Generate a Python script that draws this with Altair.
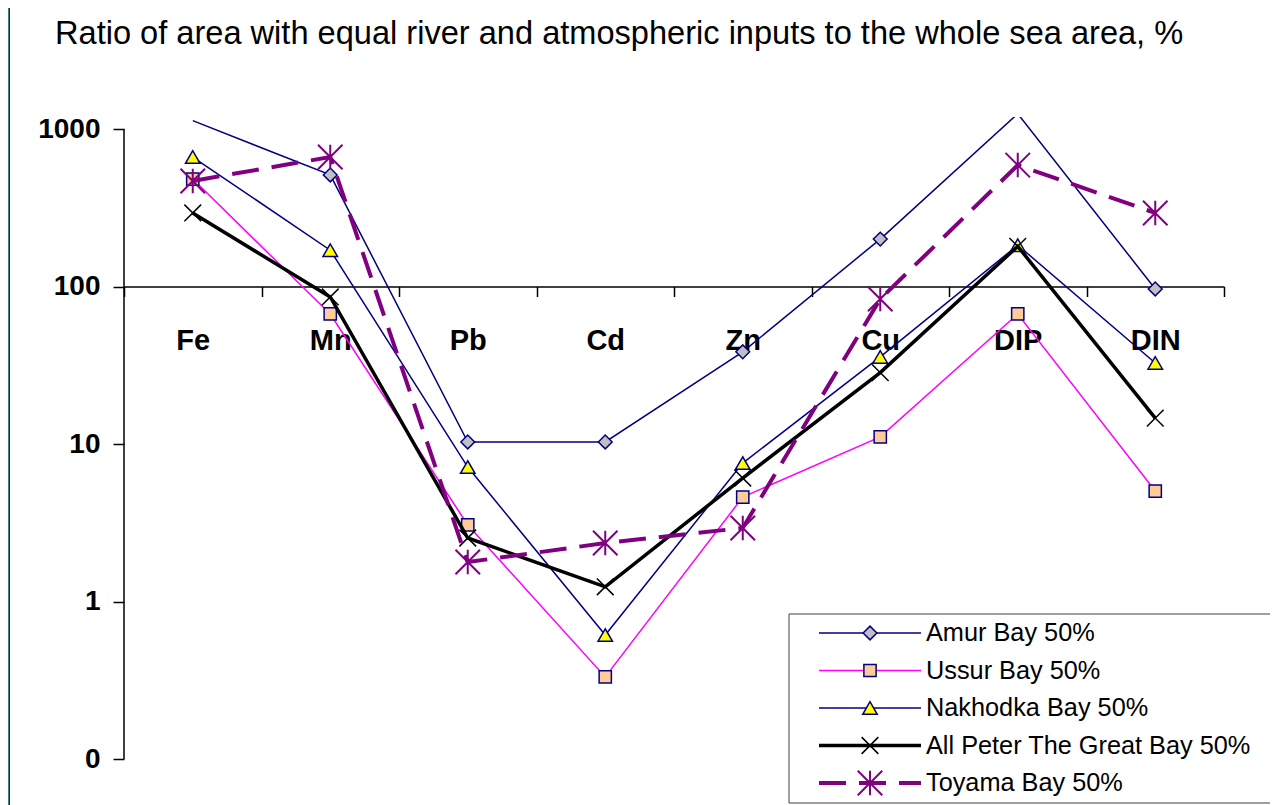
import altair as alt
import pandas as pd

# ---------------- data ----------------
categories = ["Fe", "Mn", "Pb", "Cd", "Zn", "Cu", "DIP", "DIN"]
series_names = [
    "Amur Bay 50%",
    "Ussur Bay 50%",
    "Nakhodka Bay 50%",
    "All Peter The Great Bay 50%",
    "Toyama Bay 50%",
]
amur = [1130, 511, 10.3, 10.3, 38.5, 200, 1250, 96.5]
ussur = [481, 66.9, 3.06, 0.332, 4.6, 11.1, 66.9, 5.03]
nakhodka = [664, 170, 7.14, 0.612, 7.57, 35.7, 183, 32.7]
peter = [293, 85.8, 2.53, 1.24, 6.08, 28.4, 180, 14.6]
toyama = [468, 664, 1.78, 2.35, 2.93, 83.3, 590, 293]
y_ticks = [0.1, 1, 10, 100, 1000]
title_text = "Ratio of area with equal river and atmospheric inputs to the whole sea area, %"

series_values = [amur, ussur, nakhodka, peter, toyama]

# ---------------- styles ----------------
FONT = "Liberation Sans"
NAVY = "#000080"
X_PATH = "M-1,-1L1,1M-1,1L1,-1"
AST_PATH = "M-1,-1L1,1M-1,1L1,-1M0,-1L0,1"
styles = [
    dict(line=NAVY, lw=1.5, dash=None, shape="diamond", size=190, fill="#C0C0C0", stroke=NAVY, sw=1.5),
    dict(line="#FF00FF", lw=1.5, dash=None, shape="square", size=150, fill="#FFCC99", stroke=NAVY, sw=1.5),
    dict(line=NAVY, lw=1.5, dash=None, shape="triangle-up", size=210, fill="#FFFF00", stroke=NAVY, sw=1.5),
    dict(line="black", lw=3.5, dash=None, shape=X_PATH, size=280, fill=None, stroke="black", sw=1.5),
    dict(line="#800080", lw=4, dash=[27, 13], shape=AST_PATH, size=600, fill=None, stroke="#800080", sw=2),
]

W, H = 1100, 642
TOTAL_W, TOTAL_H = 1262, 797
PAD_L, PAD_T = 116, 109
PX_PER_DECADE = 157.5
ymax = 0.1 * 10 ** (H / PX_PER_DECADE)
axis_y_px = H - 3 * PX_PER_DECADE  # pixel position of the value 100

rows = []
for name, vals in zip(series_names, series_values):
    for c, v in zip(categories, vals):
        rows.append({"series": name, "elem": c, "value": v})
df = pd.DataFrame(rows)

x_enc = alt.X(
    "elem:N",
    sort=categories,
    bandPosition=0.5,
    scale=alt.Scale(type="band", domain=categories, paddingInner=0, paddingOuter=0),
    axis=alt.Axis(
        orient="bottom",
        offset=-(H - axis_y_px),
        tickBand="extent",
        labelAngle=0,
        labelFont=FONT,
        labelFontSize=29,
        labelFontWeight="bold",
        labelColor="black",
        labelBaseline="alphabetic",
        labelPadding=53,
        domainColor="black",
        domainWidth=1.5,
        tickColor="black",
        tickSize=10,
        tickWidth=1.5,
        grid=False,
        title=None,
    ),
)
y_enc = alt.Y(
    "value:Q",
    scale=alt.Scale(type="log", domain=[0.1, ymax], nice=False),
    axis=alt.Axis(
        values=y_ticks,
        labelExpr="datum.value < 1 ? '0' : format(datum.value, 'd')",
        labelFont=FONT,
        labelFontSize=28,
        labelFontWeight="bold",
        labelColor="black",
        labelPadding=13,
        tickColor="black",
        tickSize=11,
        tickWidth=1.5,
        domain=False,
        grid=False,
        title=None,
    ),
)

layers = []
one = pd.DataFrame({"k": [0]})

# slide frame remnants on the left edge
layers.append(
    alt.Chart(one).mark_rect(fill="#3f8282").encode(
        x=alt.value(-PAD_L), x2=alt.value(-PAD_L + 1), y=alt.value(-PAD_T), y2=alt.value(TOTAL_H)
    )
)
layers.append(
    alt.Chart(one).mark_rect(fill="#1c3030").encode(
        x=alt.value(-PAD_L + 1), x2=alt.value(-PAD_L + 2), y=alt.value(-PAD_T), y2=alt.value(TOTAL_H)
    )
)

# y axis line from 0.1 to 1000
layers.append(
    alt.Chart(one).mark_rule(color="black", strokeWidth=1.5).encode(
        x=alt.value(0), y=alt.datum(0.1), y2=alt.datum(1000)
    )
)

for name, st in zip(series_names, styles):
    sdf = df[df["series"] == name]
    lkw = dict(color=st["line"], strokeWidth=st["lw"], clip=True)
    if st["dash"]:
        lkw["strokeDash"] = st["dash"]
    line = alt.Chart(sdf).mark_line(**lkw).encode(x=x_enc, y=y_enc)
    pkw = dict(shape=st["shape"], size=st["size"], stroke=st["stroke"],
               strokeWidth=st["sw"], opacity=1, clip=True)
    if st["fill"]:
        pkw.update(filled=True, fill=st["fill"])
    else:
        pkw.update(filled=False)
    pts = (
        alt.Chart(sdf)
        .transform_filter("datum.value <= 1100")
        .mark_point(**pkw)
        .encode(x=x_enc, y=y_enc)
    )
    layers += [line, pts]

# title
layers.append(
    alt.Chart(pd.DataFrame({"t": [title_text]}))
    .mark_text(font=FONT, fontSize=32.6, align="left", baseline="alphabetic", color="black")
    .encode(text="t:N", x=alt.value(55 - 124), y=alt.value(44 - 117))
)

# legend box
LX0, LY0 = 789 - 124, 614 - 117
layers.append(
    alt.Chart(one)
    .mark_rect(fill="white", stroke="#404040", strokeWidth=1)
    .encode(x=alt.value(LX0), x2=alt.value(LX0 + 488), y=alt.value(LY0), y2=alt.value(LY0 + 189))
)
for i, (name, st) in enumerate(zip(series_names, styles)):
    ry = 516 + 37.5 * i
    ldf = pd.DataFrame({"series": [name]})
    rkw = dict(color=st["line"], strokeWidth=st["lw"])
    if st["dash"]:
        rkw["strokeDash"] = st["dash"]
    layers.append(
        alt.Chart(ldf).mark_rule(**rkw).encode(
            x=alt.value(695), x2=alt.value(797), y=alt.value(ry)
        )
    )
    pkw = dict(shape=st["shape"], size=st["size"], stroke=st["stroke"],
               strokeWidth=st["sw"], opacity=1)
    if st["fill"]:
        pkw.update(filled=True, fill=st["fill"])
    else:
        pkw.update(filled=False)
    layers.append(
        alt.Chart(ldf).mark_point(**pkw).encode(x=alt.value(746), y=alt.value(ry))
    )
    layers.append(
        alt.Chart(ldf)
        .mark_text(font=FONT, fontSize=25.3, align="left", baseline="middle", color="black")
        .encode(text="series:N", x=alt.value(802), y=alt.value(ry))
    )

chart = (
    alt.layer(*layers)
    .properties(
        width=W,
        height=H,
        padding={"left": PAD_L, "top": PAD_T, "right": TOTAL_W - PAD_L - W,
                 "bottom": TOTAL_H - PAD_T - H},
        autosize=alt.AutoSizeParams(type="none"),
        background="white",
    )
    .configure_view(stroke=None)
)

chart.save("out.html", embed_options={"renderer": "svg", "actions": False})
